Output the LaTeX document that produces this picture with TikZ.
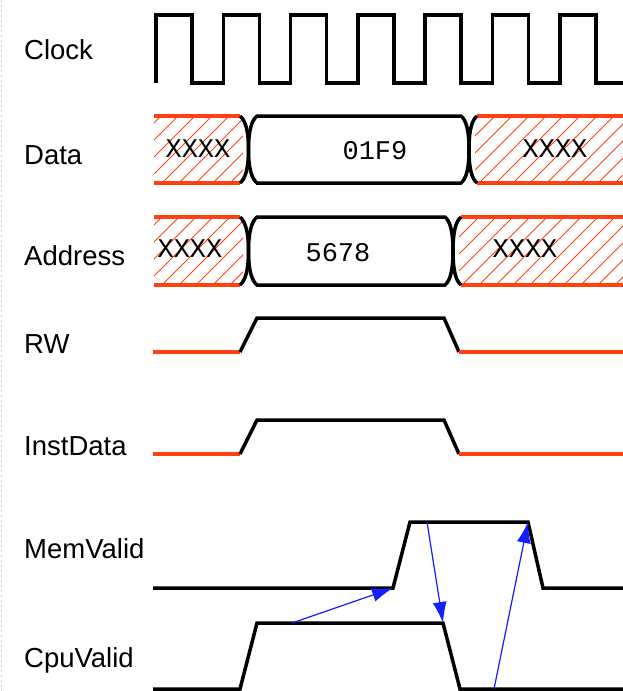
\documentclass[tikz,border=0pt]{standalone}
\usepackage{fontspec}
\setmainfont{Liberation Sans}
\newfontfamily\busfont{Liberation Mono}
\usetikzlibrary{arrows.meta}
\definecolor{hotred}{RGB}{255,64,16}
\definecolor{depblue}{RGB}{20,30,255}

\begin{document}
\begin{tikzpicture}[
    x=1pt, y=-1pt,
    lbl/.style={anchor=base west, inner sep=0pt, font=\fontsize{27.5}{30}\selectfont},
    val/.style={inner sep=0pt, font=\busfont\fontsize{27}{29}\selectfont},
    sig/.style={line width=3.5pt, line join=miter},
    undef/.style={line width=3.5pt, draw=hotred},
    hatch/.style={draw=hotred, line width=0.75pt},
    dep/.style={-{Latex[length=21pt,width=14pt]}, draw=depblue, fill=depblue, line width=1.2pt}
]
\useasboundingbox (0,0) rectangle (623,691);
\draw[gray!40, line width=1pt, dash pattern=on 2pt off 3pt] (1,0) -- (1,691);

% signal names
\node[lbl] (clk)  at (24,59)  {Clock};
\node[lbl] (data) at (24,164) {Data};
\node[lbl] (addr) at (24,265) {Address};
\node[lbl] (rw)   at (24,353) {RW};
\node[lbl] (inst) at (24,455) {InstData};
\node[lbl] (mem)  at (24,558) {MemValid};
\node[lbl] (cpu)  at (24,667) {CpuValid};

% clock
\draw[sig] (156,83) \foreach \i in {0,...,6} {
    -- ({156+67.3*\i},83) -- ({156+67.3*\i},15) -- ({192+67.3*\i},15) -- ({192+67.3*\i},83)
  } -- (623,83);

% data and address buses
\foreach \yt/\yb/\xr in {116/183/469, 217/285/453} {
  \pgfmathsetmacro{\ym}{(\yt+\yb)/2}
  \begin{scope}
    \clip (154,\yt) rectangle (243,\yb);
    \foreach \k in {60,77,...,260} \draw[hatch] (\k,\yb) -- ++(80,-80);
  \end{scope}
  \begin{scope}
    \clip ({\xr+6},\yt) rectangle (623,\yb);
    \foreach \k in {360,377,...,640} \draw[hatch] (\k,\yb) -- ++(80,-80);
  \end{scope}
  \draw[undef] (154,\yt) -- (240,\yt) (154,\yb) -- (240,\yb);
  \draw[undef] ({\xr+8},\yt) -- (623,\yt) ({\xr+8},\yb) -- (623,\yb);
  \draw[sig] (240,\yt) .. controls (245,{\yt+4}) and (248.5,{\ym-20}) .. (248.5,\ym)
             .. controls (248.5,{\ym+20}) and (245,{\yb-4}) .. (240,\yb);
  \draw[sig] ({\xr+8},\yt) .. controls ({\xr+3},{\yt+4}) and (\xr,{\ym-20}) .. (\xr,\ym)
             .. controls (\xr,{\ym+20}) and ({\xr+3},{\yb-4}) .. ({\xr+8},\yb);
  \draw[sig] (257,\yt) -- ({\xr-8},\yt)
             .. controls ({\xr-3},{\yt+4}) and (\xr,{\ym-20}) .. (\xr,\ym)
             .. controls (\xr,{\ym+20}) and ({\xr-3},{\yb-4}) .. ({\xr-8},\yb)
             -- (257,\yb)
             .. controls (252,{\yb-4}) and (248.5,{\ym+20}) .. (248.5,\ym)
             .. controls (248.5,{\ym-20}) and (252,{\yt+4}) .. cycle;
}
\node[val] (dx1) at (198,149) {XXXX};
\node[val] (dv)  at (375,151) {01F9};
\node[val] (dx2) at (555,149) {XXXX};
\node[val] (ax1) at (190,249) {XXXX};
\node[val] (av)  at (338,253) {5678};
\node[val] (ax2) at (525,249) {XXXX};

% RW and InstData
\foreach \lo/\hi in {352/318, 454/420} {
  \draw[undef] (153,\lo) -- (240,\lo);
  \draw[sig] (240,\lo) -- (257,\hi) -- (444,\hi) -- (459,\lo);
  \draw[undef] (459,\lo) -- (623,\lo);
}

% handshake
\coordinate (memup)  at (393,588);
\coordinate (memhi)  at (427,522);
\coordinate (memdn)  at (528,522);
\coordinate (cpuhi)  at (292,623);
\coordinate (cpudn)  at (443,623);
\coordinate (cpulo)  at (494,689);
\draw[sig] (153,588) -- (memup) -- (410,522) -- (memdn) -- (543,588) -- (623,588);
\draw[sig] (153,689) -- (240,689) -- (257,623) -- (cpudn) -- (460,689) -- (623,689);
\draw[dep] (cpuhi) -- (memup);
\draw[dep] (memhi) -- (cpudn);
\draw[dep] (cpulo) -- (memdn);
\end{tikzpicture}
\end{document}
